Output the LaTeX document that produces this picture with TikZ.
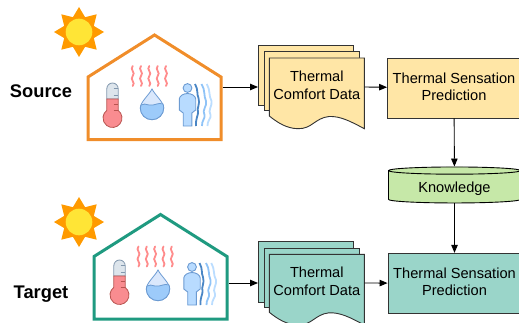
\documentclass[tikz,border=0pt]{standalone}
\usepackage{xcolor}
\usepackage{fontspec}
\setmainfont{Liberation Sans}
\usetikzlibrary{arrows.meta,shapes.geometric}

\definecolor{sunray}{HTML}{FF9A00}
\definecolor{sundisc}{HTML}{FFE536}
\definecolor{srcline}{HTML}{F08D2A}
\definecolor{tgtline}{HTML}{1F9A80}
\definecolor{srcfill}{HTML}{FFE6A6}
\definecolor{tgtfill}{HTML}{9AD5C9}
\definecolor{knowfill}{HTML}{C6E8A8}
\definecolor{boxline}{HTML}{333333}
\definecolor{steam}{HTML}{FF8C8C}
\definecolor{redfill}{HTML}{F98C90}
\definecolor{redline}{HTML}{B85450}
\definecolor{greyfill}{HTML}{DDE5EC}
\definecolor{greyline}{HTML}{8298AE}
\definecolor{bluefill}{HTML}{9DCBFA}
\definecolor{paleblue}{HTML}{DAE8FC}
\definecolor{blueline}{HTML}{6C9BD2}
\definecolor{bodyfill}{HTML}{B8DBFF}
\definecolor{waveone}{HTML}{4A86C5}
\definecolor{wavetwo}{HTML}{8FC3F7}
\definecolor{wavethree}{HTML}{BBDDFF}

\tikzset{
    flow/.style={draw=black,line width=0.9pt,-{Triangle[length=8pt,width=6.5pt]}},
    sidelabel/.style={font=\fontsize{18.3pt}{20pt}\selectfont\bfseries},
    boxtext/.style={font=\fontsize{14.6pt}{17.5pt}\selectfont,align=center},
    predbox/.style={boxtext,draw=boxline,line width=0.9pt,minimum width=133pt,minimum height=60pt,inner sep=0pt,text depth=3pt},
    sheet/.style={draw=boxline,line width=0.9pt},
    pics/sun/.style={code={
        \fill[sunray] (0:25) \foreach \a in {1,...,15}{ -- ({\a*22.5}:{mod(\a,2)==0 ? 25 : 16})} -- cycle;
        \fill[sundisc] (0,0) circle (13.3);
    }},
    pics/home/.style={code={
        \draw[#1,line width=3pt,miter limit=10] (0,0) -- (0,62.5) -- (66.5,104.5) -- (133,62.5) -- (133,0) -- cycle;
    }},
    pics/thermo/.style={code={
        % glass, then liquid
        \draw[greyline,fill=greyfill,line width=0.8pt] (-5.7,-16) -- (-5.7,-5.7) arc (180:0:5.7) -- (5.7,-16) -- cycle;
        \draw[redline,fill=redfill,line width=0.8pt] (-5.7,-16) -- (5.7,-16) -- (5.7,-27.4) arc (53:-233:9.5) -- cycle;
        \draw[greyline,line width=0.8pt] (1,-5.5) -- (5.7,-5.5) (1,-12) -- (5.7,-12);
        \draw[redline,line width=0.8pt] (1,-21) -- (5.7,-21) (1,-27) -- (5.7,-27);
    }},
    pics/steam/.style={code={
        \foreach \x in {0,8.3,16.6,25,33.3}
            \draw[steam,line width=1.8pt,line cap=round] (\x,0) .. controls (\x-3.5,-3.5) and (\x+3.5,-6.5) .. (\x,-10) .. controls (\x-3.5,-13.5) and (\x+3.5,-16.5) .. (\x,-20);
    }},
    pics/drop/.style={code={
        \draw[blueline,fill=paleblue,line width=0.8pt] (0,19) .. controls (-3,13) and (-11.7,6) .. (-11.7,0) arc (180:360:11.7) .. controls (11.7,6) and (3,13) .. (0,19) -- cycle;
        \draw[blueline,fill=bluefill,line width=0.8pt] (-11.7,0) arc (180:360:11.7) .. controls (11.7,2) and (11.4,3) .. (11,4) .. controls (6,6) and (3,2) .. (-3,3) .. controls (-6,3.5) and (-9,5) .. (-11,3) .. controls (-11.4,2) and (-11.7,1) .. (-11.7,0) -- cycle;
    }},
    pics/person/.style={code={
        \draw[blueline,fill=bodyfill,line width=0.9pt] (0,38) circle (4.4);
        \draw[blueline,fill=bodyfill,line width=0.9pt] (-4.3,0) -- (-4.3,13) -- (-8.2,16) -- (-8.2,27) .. controls (-8.2,30) and (-4,32.5) .. (0,32.5) .. controls (4,32.5) and (8.2,30) .. (8.2,27) -- (8.2,16) -- (4.3,13) -- (4.3,0) -- cycle;
        \draw[waveone,line width=1.8pt] (7.5,42) .. controls (11,36) and (9,32) .. (11,28) .. controls (13,22) and (9,18) .. (10.5,14) .. controls (11,11) and (8,8) .. (8.5,0);
        \draw[wavetwo,line width=1.8pt] (14,42) .. controls (18,36) and (16,30) .. (18.5,25) .. controls (20,20) and (14,16) .. (17,11) .. controls (18,8) and (14,5) .. (14.5,0);
        \draw[wavethree,line width=1.8pt] (19.3,42) .. controls (23,36) and (21,30) .. (24,25) .. controls (25,20) and (20,16) .. (23,11) .. controls (24,8) and (19.5,5) .. (20,0);
    }},
}

\begin{document}
\begin{tikzpicture}[x=1pt,y=1pt]
    \useasboundingbox (0,0) rectangle (519,322);
    \clip (0,0) rectangle (519,322);

    %source building
    \node[sidelabel] (sourcelabel) at (41,230.5) {Source};
    \pic at (79,290) {sun};
    \pic at (88,182.5) {home=srcline};
    \pic at (112.5,239) {thermo};
    \pic at (132.7,256) {steam};
    \pic at (152,214) {drop};
    \pic at (187.5,196) {person};
    \coordinate (sourcewall) at (222.5,235);

    %target building
    \node[sidelabel] (targetlabel) at (41,27.5) {Target};
    \pic at (79,100) {sun};
    \pic at (94,3) {home=tgtline};
    \pic at (119.5,62) {thermo};
    \pic at (138.5,75.5) {steam};
    \pic at (158,33) {drop};
    \pic at (192,17) {person};
    \coordinate (targetwall) at (228.5,39);

    %source data pages
    \draw[sheet,fill=srcfill] (258.5,217) -- (258.5,276.7) -- (353.7,276.7) -- (353.7,217) -- cycle;
    \draw[sheet,fill=srcfill] (264,212) -- (264,270.3) -- (359,270.3) -- (359,212) -- cycle;
    \draw[sheet,fill=srcfill] (269.3,206) -- (269.3,264) -- (364.3,264) -- (364.3,193.3) .. controls (350,201) and (340,206) .. (329,205.5) .. controls (315,204) and (312,193) .. (298,193.3) .. controls (287,193.5) and (278,199) .. (269.3,206) -- cycle;
    \node[boxtext,inner sep=0pt] (sourcedata) at (316.8,236.5) {Thermal\\Comfort Data};
    \coordinate (sourcein) at (258,235);
    \coordinate (sourceout) at (364.5,235);

    %target data pages
    \draw[sheet,fill=tgtfill] (258.5,20) -- (258.5,80.3) -- (353.7,80.3) -- (353.7,20) -- cycle;
    \draw[sheet,fill=tgtfill] (264,15) -- (264,74) -- (359,74) -- (359,15) -- cycle;
    \draw[sheet,fill=tgtfill] (269.3,9.7) -- (269.3,67.7) -- (364.3,67.7) -- (364.3,-3) .. controls (350,4.7) and (340,9.7) .. (329,9.2) .. controls (315,7.7) and (312,-3.3) .. (298,-3) .. controls (287,-2.8) and (278,2.7) .. (269.3,9.7) -- cycle;
    \node[boxtext,inner sep=0pt] (targetdata) at (316.8,40.5) {Thermal\\Comfort Data};
    \coordinate (targetin) at (258,39);
    \coordinate (targetout) at (364.5,39);

    %prediction boxes and knowledge store
    \node[predbox,fill=srcfill] (sourcepred) at (454,234) {Thermal Sensation\\Prediction};
    \node[predbox,fill=tgtfill] (targetpred) at (454.5,38.7) {Thermal Sensation\\Prediction};
    \node[cylinder,shape border rotate=90,aspect=0.1,draw=black,line width=0.9pt,fill=knowfill,cylinder uses custom fill,cylinder body fill=knowfill,cylinder end fill=knowfill,minimum width=132pt,minimum height=36pt,inner sep=0pt,font=\fontsize{14.6pt}{18pt}\selectfont] (knowledge) at (454.5,135) {\raisebox{-5pt}[5pt][5pt]{Knowledge}};

    %flows
    \draw[flow] (sourcewall) -- (sourcein);
    \draw[flow] (sourceout) -- (sourcepred);
    \draw[flow] (sourcepred) -- (knowledge);
    \draw[flow] (knowledge) -- (targetpred);
    \draw[flow] (targetwall) -- (targetin);
    \draw[flow] (targetout) -- (targetpred);
\end{tikzpicture}
\end{document}
